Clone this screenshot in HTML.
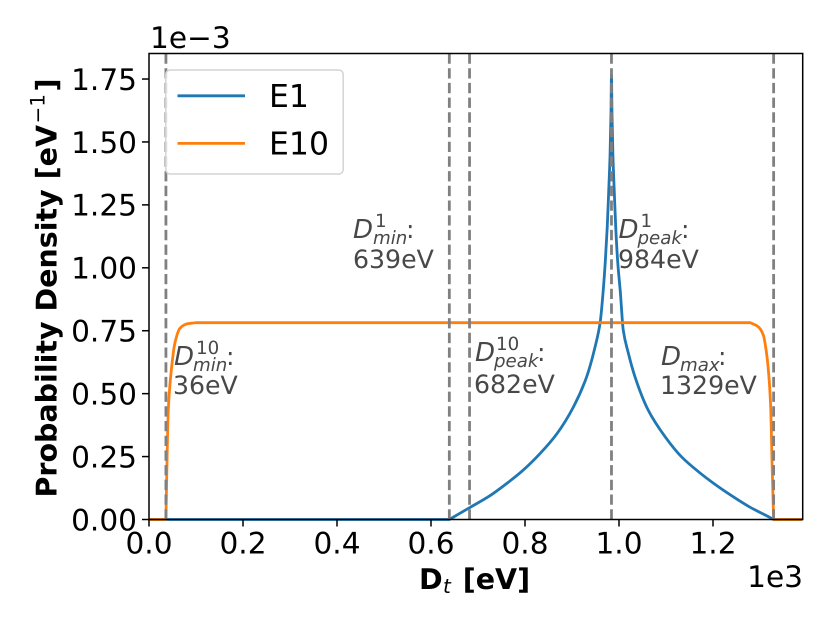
<!DOCTYPE html>
<html>
<head>
<meta charset="utf-8">
<title>Probability Density Chart</title>
<style>
html,body{margin:0;padding:0;background:#fff;width:830px;height:623px;overflow:hidden}
svg{display:block}
text{font-family:"DejaVu Sans","Liberation Sans",sans-serif;fill:#000;text-rendering:geometricPrecision}
.ann{fill:#484848;font-size:25.2px}
.annm{fill:#484848;font-size:18.2px;font-style:italic}
.anns{fill:#484848;font-size:18.2px}
.anni{fill:#484848;font-size:26px;font-style:italic}
.tick{font-size:29.6px}
.lab{font-size:28.5px;font-weight:bold}
</style>
</head>
<body>
<svg id="chart" xmlns="http://www.w3.org/2000/svg" width="830" height="623" viewBox="0 0 830 623">
  <rect x="149" y="53.5" width="653.7" height="466" fill="#fff"/>
  <g id="series"></g>
  <g id="markers"></g>

  <g>
    <text class="anni" x="353" y="238">D</text><text class="anns" x="375" y="227">1</text><text class="annm" x="373" y="244">min</text><text class="ann" x="406" y="238">:</text>
    <text class="ann" x="353" y="268">639eV</text>
  </g>
  <g>
    <text class="anni" x="618.5" y="238">D</text><text class="anns" x="640.5" y="227">1</text><text class="annm" x="637.5" y="244">peak</text><text class="ann" x="681" y="238">:</text>
    <text class="ann" x="618" y="268">984eV</text>
  </g>
  <g>
    <text class="anni" x="174" y="365">D</text><text class="anns" x="196" y="354">10</text><text class="annm" x="193" y="371">min</text><text class="ann" x="226" y="365">:</text>
    <text class="ann" x="173" y="394">36eV</text>
  </g>
  <g>
    <text class="anni" x="475" y="361">D</text><text class="anns" x="496" y="350">10</text><text class="annm" x="494" y="367">peak</text><text class="ann" x="537" y="361">:</text>
    <text class="ann" x="474" y="393">682eV</text>
  </g>
  <g>
    <text class="anni" x="661" y="365">D</text><text class="annm" x="680" y="371">max</text><text class="ann" x="718" y="365">:</text>
    <text class="ann" x="660" y="394">1329eV</text>
  </g>

  <g>
    <rect x="165.8" y="70" width="177.4" height="104" rx="4.5" fill="#fff" fill-opacity="0.8" stroke="#d4d4d4" stroke-width="1.5"/>
    <line x1="177.5" y1="95.8" x2="245" y2="95.8" stroke="#1f77b4" stroke-width="2.8"/>
    <text x="269" y="107" font-size="31.5">E1</text>
    <line x1="177.5" y1="143.4" x2="245" y2="143.4" stroke="#ff7f0e" stroke-width="2.8"/>
    <text x="269" y="154.5" font-size="31.5">E10</text>
  </g>

  <g id="axes"></g>
  <rect x="149" y="53.5" width="653.7" height="466" fill="none" stroke="#000" stroke-width="1.5"/>

  <text class="tick" x="150" y="48">1e−3</text>
  <text class="tick" x="803" y="587" text-anchor="end">1e3</text>

  <g>
    <text class="lab" x="419" y="589">D</text><text x="443" y="593" font-size="20" font-style="italic">t</text><text class="lab" x="462.7" y="589">[eV]</text>
  </g>
  <g transform="translate(56.7,497.5) rotate(-90)">
    <text class="lab" x="0" y="0">Probability Density [eV</text><text x="374" y="-12" font-size="20">−1</text><text class="lab" x="406" y="0">]</text>
  </g>
</svg>
<script>
// Chart data (energy in eV, density in units of 1e-3 per eV)
var e1Energy = [0, 639, 683, 725, 761, 796, 832, 868, 903, 931, 949, 960, 966, 971, 975, 978, 981, 983, 984, 985, 987, 990, 993, 997, 1003, 1009, 1020, 1034, 1062, 1098, 1133, 1169, 1204, 1240, 1275, 1324, 1329, 1390];
var e1Density = [0, 0, 0.048, 0.094, 0.143, 0.196, 0.262, 0.341, 0.447, 0.566, 0.685, 0.784, 0.9, 1.03, 1.163, 1.3, 1.45, 1.62, 1.766, 1.62, 1.45, 1.3, 1.163, 1.03, 0.9, 0.753, 0.66, 0.567, 0.435, 0.329, 0.249, 0.19, 0.14, 0.094, 0.053, 0.005, 0, 0];
var e10Energy = [0, 36, 37.7, 41, 48.3, 55, 66, 83, 101, 640, 1279, 1296, 1307, 1314, 1319, 1323, 1325.5, 1329, 1390];
var e10Density = [0, 0, 0.17, 0.435, 0.607, 0.7, 0.76, 0.778, 0.782, 0.782, 0.782, 0.766, 0.733, 0.66, 0.567, 0.435, 0.236, 0, 0];
var markerEnergies = [36, 639, 682, 984, 1329];
var xTickValues = [0, 200, 400, 600, 800, 1000, 1200];
var xTickLabels = ["0.0", "0.2", "0.4", "0.6", "0.8", "1.0", "1.2"];
var yTickValues = [0, 0.25, 0.5, 0.75, 1, 1.25, 1.5, 1.75];
var yTickLabels = ["0.00", "0.25", "0.50", "0.75", "1.00", "1.25", "1.50", "1.75"];

var NS = "http://www.w3.org/2000/svg";
function xScale(v) { return 149 + v * 0.47; }
function yScale(v) { return 519.5 - v * 251.7; }
function make(tag, parent) {
  var el = document.createElementNS(NS, tag);
  parent.appendChild(el);
  return el;
}
// Smooth monotone cubic path through the data points; flat runs stay straight
function curvePath(xs, ys) {
  var px = xs.map(xScale), py = ys.map(yScale), n = px.length;
  var s = [], m = [], i;
  for (i = 0; i < n - 1; i++) { s.push((py[i + 1] - py[i]) / (px[i + 1] - px[i])); }
  m.push(s[0]);
  for (i = 1; i < n - 1; i++) {
    if (s[i - 1] === 0 || s[i] === 0) { m.push(s[i - 1] + s[i]); }
    else if (s[i - 1] * s[i] < 0) { m.push(0); }
    else {
      var h0 = px[i] - px[i - 1], h1 = px[i + 1] - px[i];
      var w0 = 2 * h1 + h0, w1 = h1 + 2 * h0;
      m.push((w0 + w1) / (w0 / s[i - 1] + w1 / s[i]));
    }
  }
  m.push(s[n - 2]);
  var d = "M" + px[0].toFixed(2) + "," + py[0].toFixed(2);
  for (i = 0; i < n - 1; i++) {
    if (s[i] === 0) {
      d += "L" + px[i + 1].toFixed(2) + "," + py[i + 1].toFixed(2);
      continue;
    }
    var h = (px[i + 1] - px[i]) / 3;
    d += "C" + (px[i] + h).toFixed(2) + "," + (py[i] + m[i] * h).toFixed(2) + " " +
         (px[i + 1] - h).toFixed(2) + "," + (py[i + 1] - m[i + 1] * h).toFixed(2) + " " +
         px[i + 1].toFixed(2) + "," + py[i + 1].toFixed(2);
  }
  return d;
}

var seriesGroup = document.getElementById("series");
var e1Line = make("path", seriesGroup);


e1Line.setAttribute("d", curvePath(e1Energy, e1Density));
e1Line.setAttribute("fill", "none");
e1Line.setAttribute("stroke", "#1f77b4");
e1Line.setAttribute("stroke-width", "2.8");
e1Line.setAttribute("stroke-linejoin", "round");

var e10Line = make("path", seriesGroup);


e10Line.setAttribute("d", curvePath(e10Energy, e10Density));
e10Line.setAttribute("fill", "none");
e10Line.setAttribute("stroke", "#ff7f0e");
e10Line.setAttribute("stroke-width", "2.8");
e10Line.setAttribute("stroke-linejoin", "round");

var markerGroup = document.getElementById("markers");
markerEnergies.forEach(function (energy) {
  var m = make("line", markerGroup);
  
  
  m.setAttribute("x1", xScale(energy));
  m.setAttribute("x2", xScale(energy));
  m.setAttribute("y1", 519.5);
  m.setAttribute("y2", 53.5);
  m.setAttribute("stroke", "#808080");
  m.setAttribute("stroke-width", "2.8");
  m.setAttribute("stroke-dasharray", "10.3 4.4");
});

var axesGroup = document.getElementById("axes");
xTickValues.forEach(function (value, i) {
  var t = make("line", axesGroup);
  
  
  t.setAttribute("x1", xScale(value));
  t.setAttribute("x2", xScale(value));
  t.setAttribute("y1", 519.5);
  t.setAttribute("y2", 526.5);
  t.setAttribute("stroke", "#000");
  t.setAttribute("stroke-width", "1.5");
  var l = make("text", axesGroup);
  
  
  l.setAttribute("class", "tick");
  l.setAttribute("x", xScale(value));
  l.setAttribute("y", 553.5);
  l.setAttribute("text-anchor", "middle");
  l.textContent = xTickLabels[i];
});
yTickValues.forEach(function (value, i) {
  var t = make("line", axesGroup);
  
  
  t.setAttribute("x1", 142);
  t.setAttribute("x2", 149);
  t.setAttribute("y1", yScale(value));
  t.setAttribute("y2", yScale(value));
  t.setAttribute("stroke", "#000");
  t.setAttribute("stroke-width", "1.5");
  var l = make("text", axesGroup);
  
  
  l.setAttribute("class", "tick");
  l.setAttribute("x", 137);
  l.setAttribute("y", yScale(value) + 10.8);
  l.setAttribute("text-anchor", "end");
  l.textContent = yTickLabels[i];
});
</script>
</body>
</html>
